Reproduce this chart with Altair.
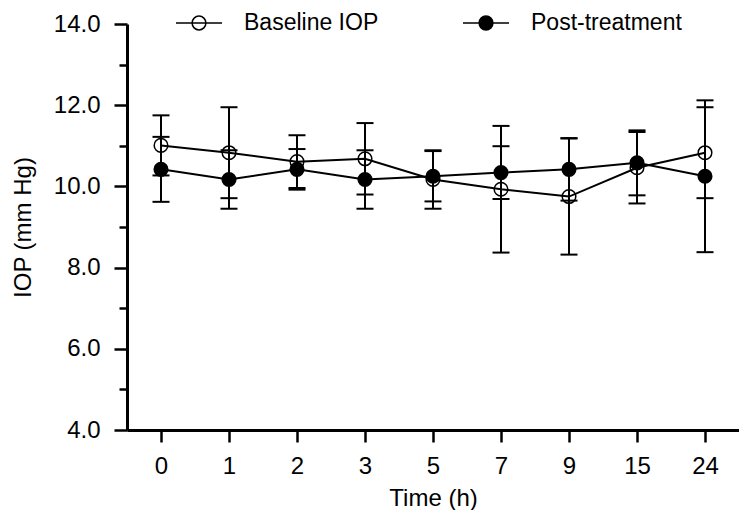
import altair as alt
import pandas as pd

# Data
times = ["0", "1", "2", "3", "5", "7", "9", "15", "24"]
series_names = ["Baseline IOP", "Post-treatment"]
baseline_mean = [11.01, 10.83, 10.61, 10.68, 10.17, 9.93, 9.75, 10.46, 10.83]
baseline_sd = [0.74, 1.12, 0.65, 0.88, 0.72, 1.56, 1.43, 0.88, 1.12]
post_mean = [10.42, 10.17, 10.42, 10.17, 10.25, 10.34, 10.42, 10.58, 10.25]
post_sd = [0.80, 0.72, 0.50, 0.72, 0.62, 0.65, 0.77, 0.80, 1.87]
y_ticks = [4, 5, 6, 7, 8, 9, 10, 11, 12, 13, 14]

rows = []
for name, means, sds in [(series_names[0], baseline_mean, baseline_sd),
                         (series_names[1], post_mean, post_sd)]:
    for t, m, s in zip(times, means, sds):
        rows.append({"series": name, "time": t, "mean": m, "lo": m - s, "hi": m + s})
df = pd.DataFrame(rows)

FONT = "Liberation Sans"

x_enc = alt.X("time:O", sort=times, scale=alt.Scale(type="point", padding=0.5),
              axis=alt.Axis(title="Time (h)", labelAngle=0, tickSize=12, tickWidth=2.5,
                            domainWidth=3, labelFontSize=24, titleFontSize=24,
                            labelPadding=12, titlePadding=8, labelFont=FONT,
                            titleFont=FONT, titleFontWeight="normal",
                            domainColor="black", tickColor="black",
                            labelColor="black", titleColor="black"))

y_scale = alt.Scale(domain=[4, 14], nice=False, zero=False)
y_axis = alt.Axis(title="IOP (mm Hg)", values=y_ticks,
                  labelExpr="datum.value % 2 == 0 ? format(datum.value, '.1f') : ''",
                  tickSize={"condition": {"test": "datum.value % 2 == 0", "value": 13}, "value": 8},
                  tickWidth=2.5, domainWidth=3, labelFontSize=24, titleFontSize=24,
                  labelPadding=14, titlePadding=18, labelFont=FONT, titleFont=FONT,
                  titleFontWeight="normal", grid=False, domainColor="black",
                  tickColor="black", labelColor="black", titleColor="black")

base = alt.Chart(df)

rules = base.mark_rule(color="black", strokeWidth=2).encode(
    x=x_enc, y=alt.Y("lo:Q", scale=y_scale, axis=y_axis), y2="hi:Q", detail="series:N")
cap_lo = base.mark_tick(color="black", thickness=2, size=17, opacity=1).encode(
    x=x_enc, y=alt.Y("lo:Q", scale=y_scale))
cap_hi = base.mark_tick(color="black", thickness=2, size=17, opacity=1).encode(
    x=x_enc, y=alt.Y("hi:Q", scale=y_scale))
lines = base.mark_line(color="black", strokeWidth=2).encode(
    x=x_enc, y=alt.Y("mean:Q", scale=y_scale), detail="series:N")

sym_path = "M-1,0L1,0M-0.3,0A0.3,0.3,0,1,0,0.3,0A0.3,0.3,0,1,0,-0.3,0Z"
points = base.mark_point(filled=True, size=185, stroke="black", strokeWidth=1.5,
                         opacity=1).encode(
    x=x_enc, y=alt.Y("mean:Q", scale=y_scale),
    fill=alt.Fill("series:N",
                  scale=alt.Scale(domain=series_names, range=["transparent", "black"]),
                  legend=alt.Legend(title=None, orient="none", legendX=48, legendY=-25,
                                    direction="horizontal", symbolType=sym_path,
                                    symbolSize=2116, symbolStrokeColor="black",
                                    symbolStrokeWidth=1.5, labelFontSize=23,
                                    labelFont=FONT, labelColor="black",
                                    labelOffset=21, columnPadding=81)))

chart = alt.layer(rules, cap_lo, cap_hi, lines, points).properties(
    width=612, height=406,
    autosize="none",
    padding={"left": 119, "top": 16, "right": 0, "bottom": 80},
).configure_view(stroke=None)

chart.save("out.html", embed_options={"renderer": "svg", "actions": False})
